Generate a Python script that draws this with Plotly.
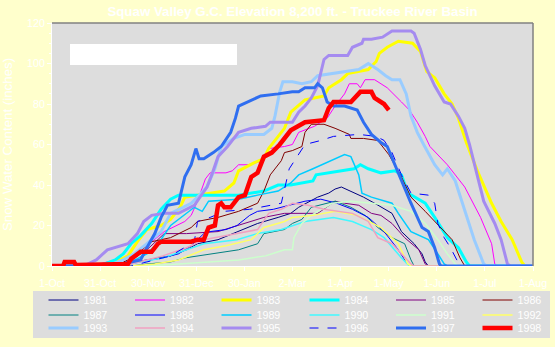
import plotly.graph_objects as go

# ---------------- data (day of water year from 1-Oct, SWE inches) ----------------
x_tick_labels = ["1-Oct", "31-Oct", "30-Nov", "31-Dec", "30-Jan", "2-Mar",
                 "1-Apr", "1-May", "1-Jun", "1-Jul", "1-Aug"]
y_tick_values = [0, 20, 40, 60, 80, 100, 120]

years = ["1981", "1982", "1983", "1984", "1985", "1986",
         "1987", "1988", "1989", "1990", "1991", "1992",
         "1993", "1994", "1995", "1996", "1997", "1998"]

days_1981 = [0, 30, 45, 60, 75, 85, 92, 105, 117, 130, 143, 151, 156, 168, 175, 179, 183, 189, 197, 204, 215, 221, 229, 234, 236, 238, 304]
swe_1981 = [0, 0, 1, 3, 5, 8, 11, 13, 17, 21, 24, 26, 29, 34, 36, 38, 39, 37, 34, 31, 26, 17, 11, 6, 2, 0, 0]

days_1982 = [0, 25, 35, 50, 60, 71, 84, 88, 92, 97, 100, 110, 114, 118, 124, 134, 137, 147, 152, 156, 166, 174, 179, 185, 188, 193, 195, 198, 204, 212, 221, 226, 231, 236, 239, 250, 261, 271, 278, 280, 282, 304]
swe_1982 = [0, 0, 2, 5, 10, 17, 22, 25, 32, 43, 46, 46, 47, 50, 50, 52, 58, 59, 60, 66, 69, 73, 79, 85, 90, 90, 88, 92, 92, 88, 81, 77, 71, 64, 59, 50, 39, 24, 11, 1, 0, 0]

days_1983 = [0, 30, 40, 48, 54, 60, 69, 75, 81, 84, 92, 109, 115, 118, 128, 134, 137, 141, 143, 147, 151, 160, 172, 175, 183, 187, 200, 205, 207, 212, 219, 228, 233, 237, 242, 248, 253, 257, 262, 269, 278, 284, 291, 297, 299, 304]
swe_1983 = [0, 0, 2, 5, 12, 18, 20, 23, 29, 34, 35, 37, 41, 47, 51, 53, 58, 62, 64, 68, 76, 82, 84, 88, 92, 95, 97, 101, 105, 108, 111, 110, 106, 96, 93, 85, 80, 73, 61, 47, 31, 22, 13, 2, 0, 0]

days_1984 = [0, 30, 40, 45, 50, 56, 63, 69, 75, 80, 118, 126, 134, 143, 151, 165, 167, 191, 195, 200, 208, 217, 221, 225, 236, 242, 250, 257, 262, 264, 304]
swe_1984 = [0, 0, 3, 6, 11, 15, 21, 28, 33, 35, 35, 36, 37, 40, 40, 42, 45, 48, 50, 48, 46, 47, 45, 36, 31, 24, 14, 9, 2, 0, 0]

days_1985 = [0, 40, 50, 60, 71, 85, 105, 113, 126, 134, 147, 168, 179, 185, 194, 202, 208, 215, 223, 232, 236, 238, 304]
swe_1985 = [0, 0, 3, 8, 16, 16, 17, 19, 22, 24, 26, 26, 32, 31, 30, 26, 25, 21, 14, 8, 1, 0, 0]

days_1986 = [0, 40, 48, 54, 63, 75, 88, 92, 105, 118, 130, 134, 138, 142, 145, 147, 152, 158, 160, 164, 172, 179, 188, 189, 197, 206, 209, 213, 221, 227, 236, 246, 253, 258, 261, 304]
swe_1986 = [0, 0, 3, 6, 12, 14, 19, 22, 24, 27, 31, 37, 45, 49, 52, 56, 57, 59, 66, 70, 70, 68, 65, 63, 63, 62, 59, 55, 44, 34, 27, 19, 13, 4, 0, 0]

days_1987 = [0, 50, 60, 75, 84, 100, 118, 130, 134, 147, 152, 158, 164, 179, 189, 198, 206, 215, 223, 227, 229, 304]
swe_1987 = [0, 0, 1, 2, 4, 6, 8, 11, 16, 18, 21, 23, 29, 32, 29, 25, 19, 14, 11, 3, 0, 0]

days_1988 = [0, 45, 55, 70, 80, 88, 96, 100, 110, 117, 125, 130, 140, 150, 160, 170, 180, 190, 200, 210, 218, 224, 226, 304]
swe_1988 = [0, 0, 2, 4, 6, 10, 16, 17, 18, 20, 25, 27, 28, 30, 32, 33, 31, 28, 24, 17, 9, 2, 0, 0]

days_1989 = [0, 40, 50, 60, 68, 75, 90, 95, 99, 118, 130, 143, 151, 156, 165, 179, 185, 189, 194, 196, 202, 215, 219, 227, 238, 244, 248, 250, 304]
swe_1989 = [0, 0, 2, 6, 12, 20, 29, 27, 32, 33, 35, 37, 41, 45, 48, 53, 55, 54, 45, 36, 34, 31, 26, 17, 13, 6, 1, 0, 0]

days_1990 = [0, 45, 55, 70, 85, 96, 117, 130, 145, 160, 178, 190, 202, 210, 221, 226, 304]
swe_1990 = [0, 0, 2, 4, 8, 11, 13, 16, 18, 22, 24, 22, 18, 14, 4, 0, 0]

days_1991 = [0, 60, 80, 100, 118, 135, 147, 152, 153, 158, 164, 177, 189, 202, 215, 227, 236, 244, 250, 255, 257, 304]
swe_1991 = [0, 0, 1, 2, 3, 5, 8, 8, 14, 21, 25, 31, 32, 31, 30, 27, 21, 13, 6, 1, 0, 0]

days_1992 = [0, 50, 65, 80, 96, 110, 126, 134, 147, 152, 165, 179, 193, 208, 219, 225, 227, 304]
swe_1992 = [0, 0, 1, 3, 8, 10, 13, 19, 22, 24, 25, 27, 25, 19, 11, 1, 0, 0]

days_1993 = [0, 35, 45, 52, 60, 69, 75, 88, 92, 98, 103, 105, 107, 115, 122, 134, 139, 141, 144, 146, 152, 158, 164, 168, 185, 194, 200, 206, 211, 215, 220, 224, 227, 231, 235, 242, 247, 250, 255, 261, 267, 273, 275, 304]
swe_1993 = [0, 0, 3, 6, 11, 17, 26, 31, 34, 39, 48, 54, 59, 63, 65, 65, 68, 74, 86, 91, 91, 90, 91, 94, 96, 97, 100, 97, 94, 92, 92, 85, 74, 66, 60, 50, 45, 48, 42, 27, 13, 1, 0, 0]

days_1994 = [0, 45, 55, 70, 85, 96, 117, 130, 137, 145, 152, 162, 172, 190, 200, 206, 215, 223, 227, 229, 304]
swe_1994 = [0, 0, 2, 5, 9, 13, 16, 18, 26, 28, 31, 30, 28, 26, 22, 14, 11, 4, 1, 0, 0]

days_1995 = [0, 20, 28, 35, 48, 54, 58, 63, 71, 80, 90, 98, 101, 105, 111, 118, 126, 135, 138, 152, 156, 160, 164, 168, 172, 175, 187, 190, 196, 197, 202, 209, 215, 227, 229, 233, 236, 242, 248, 252, 257, 261, 264, 269, 273, 280, 284, 288, 290, 304]
swe_1995 = [0, 0, 3, 8, 11, 16, 22, 25, 26, 26, 30, 39, 45, 54, 59, 66, 68, 69, 71, 71, 76, 79, 83, 89, 102, 104, 104, 108, 110, 112, 112, 113, 116, 116, 115, 107, 99, 89, 81, 80, 74, 68, 60, 45, 32, 21, 13, 1, 0, 0]

days_1996 = [0, 50, 60, 75, 90, 92, 100, 109, 125, 145, 150, 156, 160, 170, 178, 194, 205, 210, 215, 221, 227, 238, 242, 244, 248, 252, 256, 258, 304]
swe_1996 = [0, 0, 2, 5, 12, 22, 24, 27, 28, 31, 48, 55, 60, 62, 64, 65, 64, 62, 56, 45, 36, 35, 31, 21, 14, 9, 3, 0, 0]

days_1997 = [0, 40, 50, 56, 60, 65, 69, 73, 80, 84, 88, 91, 93, 96, 102, 107, 113, 116, 118, 126, 132, 143, 152, 156, 160, 166, 168, 171, 174, 178, 185, 193, 197, 202, 208, 212, 221, 227, 234, 238, 242, 245, 246, 304]
swe_1997 = [0, 0, 2, 3, 9, 16, 24, 30, 31, 44, 50, 58, 53, 53, 56, 59, 66, 73, 79, 82, 84, 85, 86, 86, 88, 88, 90, 88, 81, 79, 79, 77, 71, 65, 61, 59, 42, 31, 19, 17, 9, 1, 0, 0]

days_1998 = [0, 7, 8, 14, 15, 47, 48, 50, 56, 63, 67, 69, 88, 92, 96, 99, 103, 105, 107, 109, 113, 118, 122, 126, 130, 134, 139, 144, 151, 160, 172, 175, 178, 189, 195, 202, 204, 210, 213]
swe_1998 = [0, 0, 2, 2, 0.5, 0.5, 1, 3.5, 7, 7, 11, 12, 12, 13, 13, 19, 20, 30, 31, 29, 29, 34, 35, 44, 46, 54, 56, 60, 67, 71, 72, 78, 81, 81, 86, 86, 83, 80, 77]

series_days = [days_1981, days_1982, days_1983, days_1984, days_1985, days_1986,
               days_1987, days_1988, days_1989, days_1990, days_1991, days_1992,
               days_1993, days_1994, days_1995, days_1996, days_1997, days_1998]
series_swe = [swe_1981, swe_1982, swe_1983, swe_1984, swe_1985, swe_1986,
              swe_1987, swe_1988, swe_1989, swe_1990, swe_1991, swe_1992,
              swe_1993, swe_1994, swe_1995, swe_1996, swe_1997, swe_1998]

# ---------------- styles ----------------
colors = ["#000080", "#FF00FF", "#FFFF00", "#00FFFF", "#800080", "#800000",
          "#008080", "#0000FF", "#00CCFF", "#40F8FF", "#CCFFCC", "#FFFF66",
          "#99CCFF", "#F0A0C0", "#A58BF0", "#0000FF", "#2F6EF0", "#FF0000"]
widths = [1, 1, 3, 3, 1, 1,
          1, 1, 1.5, 1.5, 1.5, 1.5,
          3, 1.5, 3, 1, 3, 4.5]
dashes = ["solid"] * 15 + ["dash", "solid", "solid"]

FONT = "Liberation Sans, Arial, sans-serif"
TXT = "#FFFFFF"
W, H = 555, 347
ML, MR, MT, MB = 52, 22, 23, 81
PW, PH = W - ML - MR, H - MT - MB

# legend layout: 3 rows x 6 columns, each half-row is its own legend box
row_tops = [285.5, 300.5, 313.5]
half_x = [43.5, 304.5]
legend_names = []
legend_layouts = {}
k = 0
for r, top in enumerate(row_tops):
    for hx in half_x:
        k += 1
        name = "legend" if k == 1 else f"legend{k}"
        legend_layouts[name] = dict(
            orientation="h", xref="container", yref="container",
            xanchor="left", yanchor="top", x=hx / W, y=1 - top / H,
            bgcolor="rgba(0,0,0,0)", borderwidth=0,
            font=dict(family=FONT, size=10.7, color=TXT),
            entrywidth=41.5, itemwidth=30, tracegroupgap=0,
        )
        legend_names += [name] * 3

fig = go.Figure()
for yr, dx, vy, c, w, d, lg in zip(years, series_days, series_swe, colors, widths, dashes, legend_names):
    fig.add_trace(go.Scatter(
        x=dx, y=vy, mode="lines", name=yr,
        line=dict(color=c, width=w, dash=d),
        legend=lg, hoverinfo="skip",
    ))

tickvals = [i * 365 / 12 for i in range(len(x_tick_labels))]

fig.update_layout(
    width=W, height=H,
    margin=dict(l=ML, r=MR, t=MT, b=MB, autoexpand=False),
    paper_bgcolor="#FFFFCC",
    plot_bgcolor="#DDDDDD",
    showlegend=True,
    title=dict(
        text="<b>Squaw Valley G.C. Elevation 8,200 ft. - Truckee River Basin</b>",
        font=dict(family=FONT, size=13.3, color=TXT),
        x=(ML + PW / 2) / W, xanchor="center", xref="container",
        y=1 - 11 / H, yanchor="middle", yref="container",
    ),
    xaxis=dict(
        range=[0, 365 * 10 / 12], fixedrange=True,
        tickmode="array", tickvals=tickvals, ticktext=x_tick_labels,
        showgrid=False, zeroline=False,
        showline=True, linecolor="#FFFFFF", linewidth=1,
        ticks="outside", ticklen=4, tickcolor="#FFFFFF",
        tickfont=dict(family=FONT, size=10.7, color=TXT),
        ticklabelstandoff=3,
    ),
    yaxis=dict(
        range=[0, 120], fixedrange=True,
        tickmode="array", tickvals=y_tick_values,
        showgrid=False, zeroline=False,
        showline=True, linecolor="#FFFFFF", linewidth=1,
        ticks="outside", ticklen=4, tickcolor="#FFFFFF",
        minor=dict(dtick=5, ticks="outside", ticklen=2, tickcolor="#FFFFFF"),
        tickfont=dict(family=FONT, size=10.7, color=TXT),
        title=dict(text="Snow Water Content (inches)",
                   font=dict(family=FONT, size=13.3, color=TXT), standoff=14),
    ),
    shapes=[
        # legend background box
        dict(type="rect", xref="paper", yref="paper", layer="below",
             x0=(33 - ML) / PW, x1=(550 - ML) / PW,
             y0=1 - (338 - MT) / PH, y1=1 - (291 - MT) / PH,
             fillcolor="#DDDDDD", line=dict(width=0)),
        # empty white text box in plot area
        dict(type="rect", xref="paper", yref="paper", layer="below",
             x0=(70 - ML) / PW, x1=(237 - ML) / PW,
             y0=1 - (65 - MT) / PH, y1=1 - (44 - MT) / PH,
             fillcolor="#FFFFFF", line=dict(width=0)),
        # top and right plot-area border
        dict(type="line", xref="paper", yref="paper", x0=0, x1=1, y0=1, y1=1,
             line=dict(color="#808080", width=1.5)),
        dict(type="line", xref="paper", yref="paper", x0=1, x1=1, y0=0, y1=1,
             line=dict(color="#808080", width=1.5)),
    ],
    **legend_layouts,
)

fig.write_html("out.html")
